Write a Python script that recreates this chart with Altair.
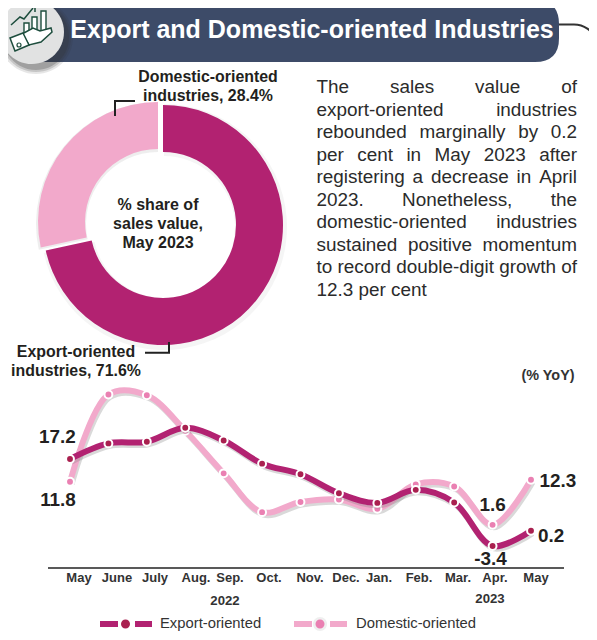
import altair as alt
import pandas as pd

months = ["May", "June", "July", "Aug.", "Sep.", "Oct.", "Nov.", "Dec.", "Jan.", "Feb.", "Mar.", "Apr.", "May"]
export_vals = [17.2, 20.9, 21.3, 24.6, 21.6, 16.1, 13.6, 9.1, 6.8, 9.9, 6.9, -3.4, 0.2]
domestic_vals = [11.8, 32.5, 32.3, 23.9, 13.8, 4.6, 7.0, 7.6, 5.4, 11.2, 10.7, 1.6, 12.3]
share_names = ["Export-oriented", "Domestic-oriented"]
share_vals = [71.6, 28.4]
para = [
    "The sales value of", "export-oriented industries", "rebounded marginally by 0.2",
    "per cent in May 2023 after", "registering a decrease in April", "2023. Nonetheless, the",
    "domestic-oriented industries", "sustained positive momentum",
    "to record double-digit growth of", "12.3 per cent",
]
tick_center = [79, 117, 155, 196, 230, 269, 310, 346, 379, 419, 458, 495, 536]

EXP, DOM, EXP_DOT, DOM_DOT = "#b22271", "#f2a9cb", "#a9204f", "#ea80b2"
INK, NAVY = "#231f20", "#3d4b68"
FONT = "Liberation Sans"
OFF = 8  # page margin
LEG_Y = 624


def X(dx=0):
    return alt.Scale(domain=[0, 12], range=[62 + dx, 523 + dx], nice=False, zero=False)


def Y(dy=0):
    return alt.Scale(domain=[0, 20], range=[523.6 + dy, 439.2 + dy], nice=False, zero=False)


ONE = pd.DataFrame({"a": [0]})
layers = []


def path(d, fill=None, stroke=None, sw=1.0, op=1.0):
    kw = {"shape": d, "size": 4, "opacity": op}
    if fill:
        kw.update(filled=True, fill=fill)
    else:
        kw.update(filled=False, fill="transparent")
    if stroke:
        kw.update(stroke=stroke, strokeWidth=sw)
    else:
        kw.update(strokeWidth=0)
    layers.append(alt.Chart(ONE).mark_point(**kw).encode(x=alt.value(-OFF), y=alt.value(-OFF)))


def circ(cx, cy, r):
    return f"M{cx-r},{cy}A{r},{r} 0 1,1 {cx+r},{cy}A{r},{r} 0 1,1 {cx-r},{cy}Z"


def text(s, x, y, size, bold=True, color=INK, align="center"):
    layers.append(alt.Chart(pd.DataFrame({"t": [s]})).mark_text(
        font=FONT, fontSize=size, fontWeight="bold" if bold else "normal",
        color=color, align=align, baseline="middle",
    ).encode(text="t:N", x=alt.value(x - OFF), y=alt.value(y - OFF)))


# header
path("M555,24.5 L574,24.5 C585,24.5 591,31 597,38", stroke="#333333", sw=2)
path("M30,0 L535,0 Q559,0 559,24 L559,38 Q559,62 535,62 L30,62 Z", fill=NAVY)
for r, o in [(37, .12), (35, .18), (33, .25)]:
    path(circ(36, 37, r), fill="#333333", op=o)
path(circ(32, 32, 32), fill="#e1e2e2")
G = "#1d4d3d"
path("M24,37 L24,23 L29,23 L29,34 Z", fill="white", stroke=G, sw=1.4)
path("M32,33 L32,17 L37,17 L37,31 Z", fill="white", stroke=G, sw=1.4)
path("M41,31 L41,11 L46,11 L46,31 Z", fill="white", stroke=G, sw=1.4)
path("M11,25 L20,17 L24,19 L33,8 M28,6 L35,5 L35,12", stroke=G, sw=1.5)
path("M22,34 L33,28 L40,31 L51,28 L52,32 L41,42 L29,45 Z", fill="white", stroke=G, sw=1.5)
path("M10,38 L23,33 L29,45 L15,51 Z", fill="white", stroke=G, sw=1.5)
path(circ(19, 45, 2), stroke=G, sw=1.2)
text("Export and Domestic-oriented Industries", 312, 30, 25, color="white")

# donut
df_share = pd.DataFrame({"name": share_names, "v": share_vals})
df_share["t0"] = [0, share_vals[0]]
df_share["t1"] = [share_vals[0], 100]
TH = alt.Scale(domain=[0, 100], range=[0, 6.28318])


def arc(name, cx, cy, color, op=1.0, r=120, r2=73):
    layers.append(alt.Chart(df_share[df_share.name == name]).mark_arc(
        radius=r, radius2=r2, color=color, opacity=op,
    ).encode(
        theta=alt.Theta("t0:Q", scale=TH), theta2="t1:Q",
        x=alt.value(cx - OFF), y=alt.value(cy - OFF),
    ))


arc("Export-oriented", 164, 227, "#555555", .06, r=123, r2=71)
arc("Domestic-oriented", 158, 224, "#555555", .10, r=122, r2=72)
arc("Domestic-oriented", 158, 222, DOM)
arc("Export-oriented", 163, 225, EXP)

text("Domestic-oriented", 208, 77, 15.9)
text("industries, 28.4%", 208, 96, 15.9)
path("M135,101 L115,101 L115,116", stroke="#222222", sw=2)
text("% share of", 158, 205, 16)
text("sales value,", 158, 224, 16)
text("May 2023", 158, 243, 16)
text("Export-oriented", 76, 352, 15.9)
text("industries, 71.6%", 76, 371, 15.9)
path("M145,352.7 L169,352.7 L169,342", stroke="#222222", sw=2)

# justified paragraph (Arial metrics, per 1000 em)
W = {" ": 278, "-": 333, ".": 278, ",": 278, "f": 278, "i": 222, "j": 222, "l": 222, "t": 278, "r": 333,
     "c": 500, "k": 500, "s": 500, "v": 500, "x": 500, "y": 500, "z": 500, "m": 833, "w": 722,
     "T": 611, "N": 722, "M": 833, "A": 667}
PS = 18.9
LEFT, RIGHT = 316.5, 577
rows = []
for n, line in enumerate(para):
    words = line.split(" ")
    widths = [sum(W.get(c, 556) for c in w) * PS / 1000 for w in words]
    last = n == len(para) - 1
    gap = 5.25 if last or len(words) < 2 else (RIGHT - LEFT - sum(widths)) / (len(words) - 1)
    x = LEFT
    for w, wd in zip(words, widths):
        rows.append({"word": w, "px": x - OFF, "py": 87 + 22.5 * n - OFF})
        x += wd + gap
layers.append(alt.Chart(pd.DataFrame(rows)).mark_text(
    font=FONT, fontSize=PS, color="#2b2b2b", align="left", baseline="middle",
).encode(text="word:N", x=alt.X("px:Q", scale=None), y=alt.Y("py:Q", scale=None)))

# line chart
df = pd.DataFrame({"i": list(range(13)), "month": months, "e": export_vals, "d": domestic_vals})
df["e_label"] = [str(v) for v in export_vals]
df["d_label"] = [str(v) for v in domestic_vals]


def series(field, color, dot):
    layers.append(alt.Chart(df).mark_line(
        interpolate="catmull-rom", color="#777777", strokeWidth=6, opacity=.28,
    ).encode(x=alt.X("i:Q", scale=X(1.5), axis=None), y=alt.Y(f"{field}:Q", scale=Y(2.5), axis=None)))
    layers.append(alt.Chart(df).mark_line(
        interpolate="catmull-rom", color=color, strokeWidth=6,
    ).encode(x=alt.X("i:Q", scale=X(), axis=None), y=alt.Y(f"{field}:Q", scale=Y(), axis=None)))
    layers.append(alt.Chart(df).mark_circle(
        size=62, color=dot, stroke="white", strokeWidth=2, opacity=1,
    ).encode(x=alt.X("i:Q", scale=X(), axis=None), y=alt.Y(f"{field}:Q", scale=Y(), axis=None)))


series("d", DOM, DOM_DOT)
series("e", EXP, EXP_DOT)

# value labels
for field, idx, dx, dy in [("e", 0, -12.5, -22), ("d", 0, -12, 18), ("d", 12, 27, 1), ("e", 12, 20, 5),
                           ("d", 11, 0, -20), ("e", 11, -2, 13)]:
    layers.append(alt.Chart(df[df.i == idx]).mark_text(
        font=FONT, fontSize=18.9, fontWeight="bold", color=INK, dx=dx, dy=dy, baseline="middle", align="center",
    ).encode(
        x=alt.X("i:Q", scale=X(), axis=None), y=alt.Y(f"{field}:Q", scale=Y(), axis=None),
        text=alt.Text(f"{field}_label:N"),
    ))

# x axis
path("M48,568 L564,568", stroke="#222222", sw=1.6)
df_ticks = pd.DataFrame({"label": months, "cx": tick_center})
df_ticks["cx"] = df_ticks["cx"] - OFF
layers.append(alt.Chart(df_ticks).mark_text(
    font=FONT, fontSize=13, fontWeight="bold", color="#333333", baseline="middle",
).encode(text="label:N", x=alt.X("cx:Q", scale=None), y=alt.value(578 - OFF)))
text("2022", 225, 601, 13.2, color="#333333")
text("2023", 490, 599, 13.2, color="#333333")
text("(% YoY)", 548, 376, 14.4, color="#333333")

# legend
path(f"M100,{LEG_Y} L118,{LEG_Y} M135,{LEG_Y} L152,{LEG_Y}", stroke=EXP, sw=6)
path(circ(125.5, LEG_Y, 4.5), fill=EXP_DOT)
text("Export-oriented", 160, LEG_Y, 14.8, bold=False, color="#333333", align="left")
path(f"M294,{LEG_Y} L312,{LEG_Y} M330,{LEG_Y} L347,{LEG_Y}", stroke=DOM, sw=6)
path(circ(320, LEG_Y, 7), fill="#efefef")
path(circ(320, LEG_Y, 4.5), fill=DOM_DOT)
text("Domestic-oriented", 356, LEG_Y, 14.8, bold=False, color="#333333", align="left")

chart = alt.layer(*layers).resolve_scale(x="independent", y="independent").properties(
    width=581, height=624, padding=0, autosize=alt.AutoSizeParams(type="none"),
).configure_view(strokeWidth=0)

chart.save("out.html", embed_options={"renderer": "svg", "actions": False})
